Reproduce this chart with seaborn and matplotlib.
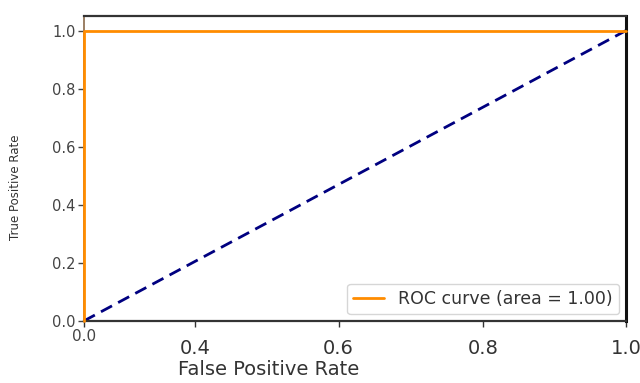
import numpy as np
import pandas as pd
import matplotlib
matplotlib.use("Agg")
import matplotlib.pyplot as plt
import seaborn as sns

sns.set_style("white")
plt.rcParams['font.family'] = ['DejaVu Sans']

# ROC data
fpr = [0.0, 0.0, 1.0]
tpr = [0.0, 1.0, 1.0]
chance_x = [0.0, 1.0]
chance_y = [0.0, 1.0]
roc_auc = 1.00

# tick labels as they appear in the picture
xtick_pos = [0.0, 0.205, 0.47, 0.736, 1.0]
xtick_labels = ["", "0.4", "0.6", "0.8", "1.0"]
ytick_vals = [0.0, 0.2, 0.4, 0.6, 0.8, 1.0]

roc_df = pd.DataFrame({"fpr": fpr, "tpr": tpr})
chance_df = pd.DataFrame({"x": chance_x, "y": chance_y})

fig = plt.figure(figsize=(6.4, 3.83), dpi=100)
ax = fig.add_axes([0.131, 0.162, 0.847, 0.796])

sns.lineplot(data=chance_df, x="x", y="y", ax=ax, color="navy", lw=2,
             linestyle=(0, (4.5, 2.5)), sort=False, estimator=None, zorder=2)
sns.lineplot(data=roc_df, x="fpr", y="tpr", ax=ax, color="darkorange", lw=2,
             sort=False, estimator=None, zorder=3, clip_on=False,
             label="ROC curve (area = %0.2f)" % roc_auc)

ax.set_xlim(0.0, 1.0)
ax.set_ylim(0.0, 1.05)
ax.set_xticks(xtick_pos)
ax.set_xticklabels(xtick_labels)
ax.set_yticks(ytick_vals)
ax.set_yticklabels(["%.1f" % v for v in ytick_vals])

ax.tick_params(axis="x", labelsize=14, colors="#333333", length=4, width=1,
               direction="out", bottom=True, pad=9)
ax.tick_params(axis="y", labelsize=10.5, colors="#444444", length=4, width=1,
               direction="out", left=True, pad=2)
# the first x label sits higher and smaller
ax.annotate("0.0", xy=(0, 0), xycoords="axes fraction", xytext=(0, -6),
            textcoords="offset points", ha="center", va="top",
            fontsize=11, color="#444444")

ax.set_xlabel("False Positive Rate", fontsize=14, color="#333333")
ax.xaxis.set_label_coords(0.34, -0.128)
ax.set_ylabel("True Positive Rate", fontsize=8.5, color="#333333")
ax.yaxis.set_label_coords(-0.114, 0.44)

for side in ["top", "bottom"]:
    ax.spines[side].set_color("#333333")
    ax.spines[side].set_linewidth(1.6)
ax.spines["right"].set_color("#111111")
ax.spines["right"].set_linewidth(2.2)
ax.spines["left"].set_color("#8a6a4a")
ax.spines["left"].set_linewidth(1.2)

leg = ax.legend(loc="lower right", fontsize=12.5, frameon=True,
                handlelength=1.8, borderpad=0.35, borderaxespad=0.4)
leg.get_frame().set_edgecolor("#cccccc")
for t in leg.get_texts():
    t.set_color("#333333")

fig.savefig("out.png", dpi=100)
